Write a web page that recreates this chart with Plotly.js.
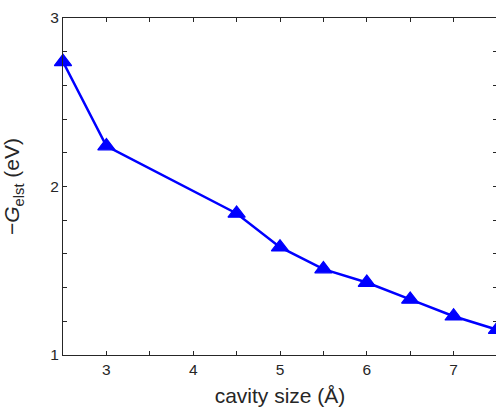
<!DOCTYPE html>
<html>
<head>
<meta charset="utf-8">
<script src="https://cdn.plot.ly/plotly-3.0.1.min.js"></script>
<style>
  html, body { margin: 0; padding: 0; overflow: hidden; background: #fff; }
  #chart { width: 498px; height: 407px; }
</style>
</head>
<body>
<div id="chart"></div>
<script>
// Cavity size (Å) and the electrostatic solvation energy magnitude (eV)
const cavitySize = [2.5, 3, 4.5, 5, 5.5, 6, 6.5, 7, 7.5];
const negGelst = [2.74, 2.24, 1.84, 1.64, 1.51, 1.43, 1.33, 1.23, 1.15];

// Tick positions and labels (only integers carry text)
const xTickVals = [2.5, 3, 3.5, 4, 4.5, 5, 5.5, 6, 6.5, 7, 7.5];
const xTickText = ['', '3', '', '4', '', '5', '', '6', '', '7', ''];
const yTickVals = [1, 1.2, 1.4, 1.6, 1.8, 2, 2.2, 2.4, 2.6, 2.8, 3];
const yTickText = ['1', '', '', '', '', '2', '', '', '', '', '3'];

const axisColor = '#262626';
const fontFamily = '"Liberation Sans", Arial, Helvetica, sans-serif';

const trace = {
  x: cavitySize,
  y: negGelst,
  type: 'scatter',
  mode: 'lines+markers',
  line: { color: '#0000ff', width: 2.5 },
  marker: {
    symbol: 'triangle-up',
    size: 15,
    color: '#0000ff',
    line: { color: '#0000ff', width: 1.2 }
  },
  cliponaxis: false,
  hoverinfo: 'skip'
};

const axisCommon = {
  showgrid: false,
  zeroline: false,
  showline: true,
  linecolor: axisColor,
  linewidth: 1,
  mirror: 'ticks',
  ticks: 'inside',
  ticklen: 4,
  tickwidth: 1,
  tickcolor: axisColor,
  tickmode: 'array',
  tickfont: { family: fontFamily, size: 15.5, color: axisColor }
};

const layout = {
  width: 498,
  height: 407,
  margin: { l: 63, r: 1, t: 18, b: 52 },
  paper_bgcolor: '#ffffff',
  plot_bgcolor: '#ffffff',
  showlegend: false,
  font: { family: fontFamily, color: axisColor },
  xaxis: Object.assign({}, axisCommon, {
    range: [2.5, 7.5],
    tickvals: xTickVals,
    ticktext: xTickText,
    title: {
      text: 'cavity size (Å)',
      font: { family: fontFamily, size: 21, color: axisColor },
      standoff: 11
    }
  }),
  yaxis: Object.assign({}, axisCommon, {
    range: [1, 3],
    tickvals: yTickVals,
    ticktext: yTickText,
    title: {
      text: '\u2212<i>G</i><sub>elst</sub> (eV)',
      font: { family: fontFamily, size: 21, color: axisColor },
      standoff: 24
    }
  })
};

Plotly.newPlot('chart', [trace], layout, { staticPlot: true, displayModeBar: false });
</script>
</body>
</html>
